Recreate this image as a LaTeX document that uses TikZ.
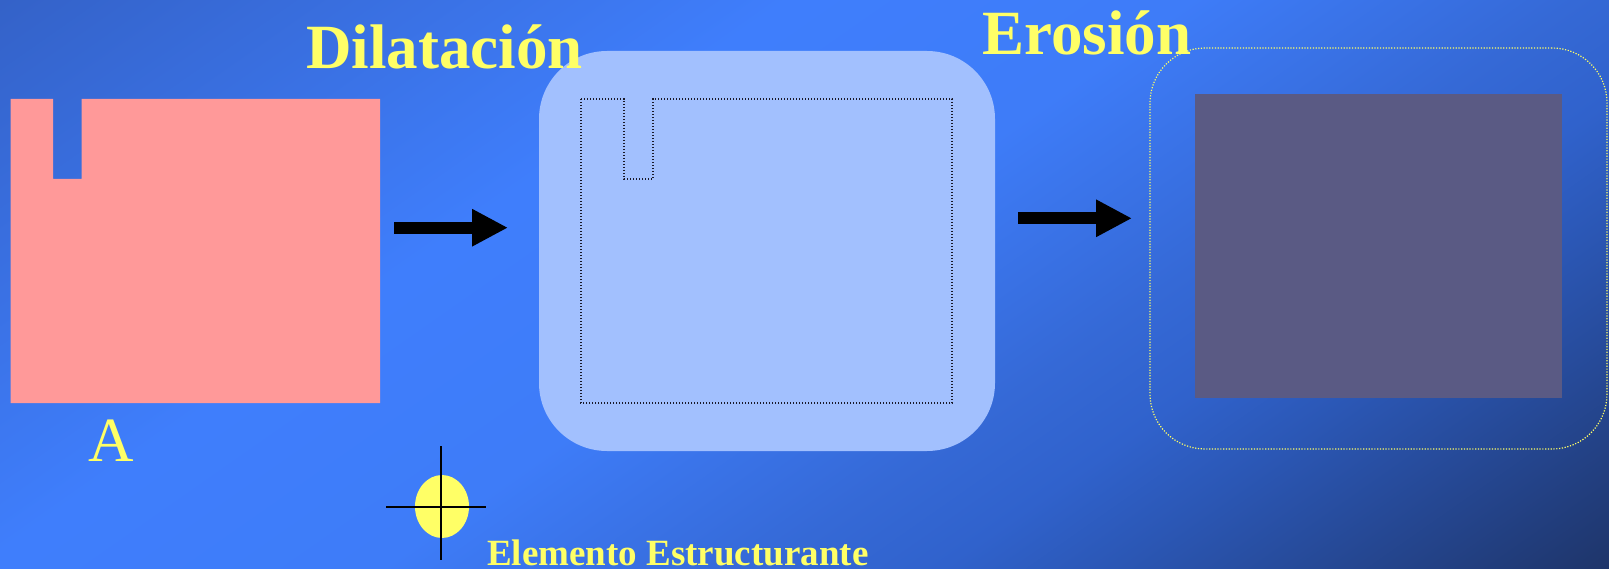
\documentclass[tikz,border=0pt]{standalone}
\usepackage{fontspec}
\setmainfont{Liberation Serif}
\usetikzlibrary{arrows.meta,shapes.geometric}
\definecolor{bgA}{HTML}{3462C8}
\definecolor{bgB}{HTML}{3F7EFC}
\definecolor{bgC}{HTML}{3E7CF8}
\definecolor{bgD}{HTML}{3569D6}
\definecolor{bgE}{HTML}{3062CC}
\definecolor{bgF}{HTML}{2B57B5}
\definecolor{bgG}{HTML}{1E3468}
\definecolor{pinkA}{HTML}{FF9999}
\definecolor{dilfill}{HTML}{A2C0FE}
\definecolor{erofill}{HTML}{5A5A84}
\definecolor{ylw}{HTML}{FFFF66}
\definecolor{dotdark}{HTML}{1A1A2A}
\pgfdeclarehorizontalshading{bgshade}{4000bp}{color(0bp)=(bgA); color(200bp)=(bgA); color(650bp)=(bgB); color(880bp)=(bgC); color(1100bp)=(bgD); color(1200bp)=(bgE); color(1297bp)=(bgF); color(1589bp)=(bgG); color(1800bp)=(bgG)}
\tikzset{
  titletext/.style={anchor=base west, inner sep=0pt, text=ylw, font=\fontsize{63}{63}\selectfont\bfseries},
  blockarrow/.style={line width=12pt, black, -{Triangle[length=36pt,width=35pt]}},
  dotline/.style={draw=dotdark, line width=1.4pt, dash pattern=on 1.4pt off 1.6pt},
  ylwdots/.style={draw=ylw, line width=1.2pt, dash pattern=on 1.2pt off 1.6pt},
  crossline/.style={line width=2pt, black}
}
\begin{document}
\begin{tikzpicture}[x=1pt,y=-1pt]
\useasboundingbox (0,0) rectangle (1609,569);
\begin{scope}
\clip (0,0) rectangle (1609,569);
\node[inner sep=0pt, outer sep=0pt, rotate=-55, anchor=west] (bg) at (-114.7,-163.8) {\pgfuseshading{bgshade}};
\end{scope}
% original set A
\fill[pinkA] (10.5,99) -- (53,99) -- (53,179) -- (81.5,179) -- (81.5,99) -- (380,99) -- (380,403) -- (10.5,403) -- cycle;
% dilation
\node[fill=dilfill, rounded corners=68pt, minimum width=456pt, minimum height=400pt, inner sep=0pt, outer sep=0pt] (dil) at (767,251) {};
\draw[dotline] (581,99) -- (624,99) -- (624,179) -- (653,179) -- (653,99) -- (952,99) -- (952,403) -- (581,403) -- cycle;
% erosion
\node[ylwdots, rounded corners=55pt, minimum width=457pt, minimum height=401pt, inner sep=0pt, outer sep=0pt] (ero) at (1378.5,248.5) {};
\node[fill=erofill, minimum width=367pt, minimum height=304pt, inner sep=0pt, outer sep=0pt] (sq) at (1378.5,246) {};
% arrows
\coordinate (a1s) at (394,227.7);
\coordinate (a1e) at (508,227.7);
\draw[blockarrow] (a1s) -- (a1e);
\coordinate (a2s) at (1018,218.3);
\coordinate (a2e) at (1132,218.3);
\draw[blockarrow] (a2s) -- (a2e);
% structuring element
\node[ellipse, fill=ylw, minimum width=54pt, minimum height=63pt, inner sep=0pt] (se) at (442,506.5) {};
\coordinate (vt) at (441,446);
\coordinate (vb) at (441,560);
\coordinate (hl) at (386,507);
\coordinate (hr) at (486,507);
\draw[crossline] (vt) -- (vb);
\draw[crossline] (hl) -- (hr);
% texts
\node[titletext] (tdil) at (306,69) {Dilatación};
\node[titletext] (tero) at (982,55) {Erosión};
\node[anchor=base west, inner sep=0pt, text=ylw, font=\fontsize{63}{63}\selectfont] (ta) at (88,461) {A};
\node[anchor=base west, inner sep=0pt, text=ylw, font=\fontsize{37}{37}\selectfont\bfseries] (tse) at (487,565) {Elemento Estructurante};
\end{tikzpicture}
\end{document}
